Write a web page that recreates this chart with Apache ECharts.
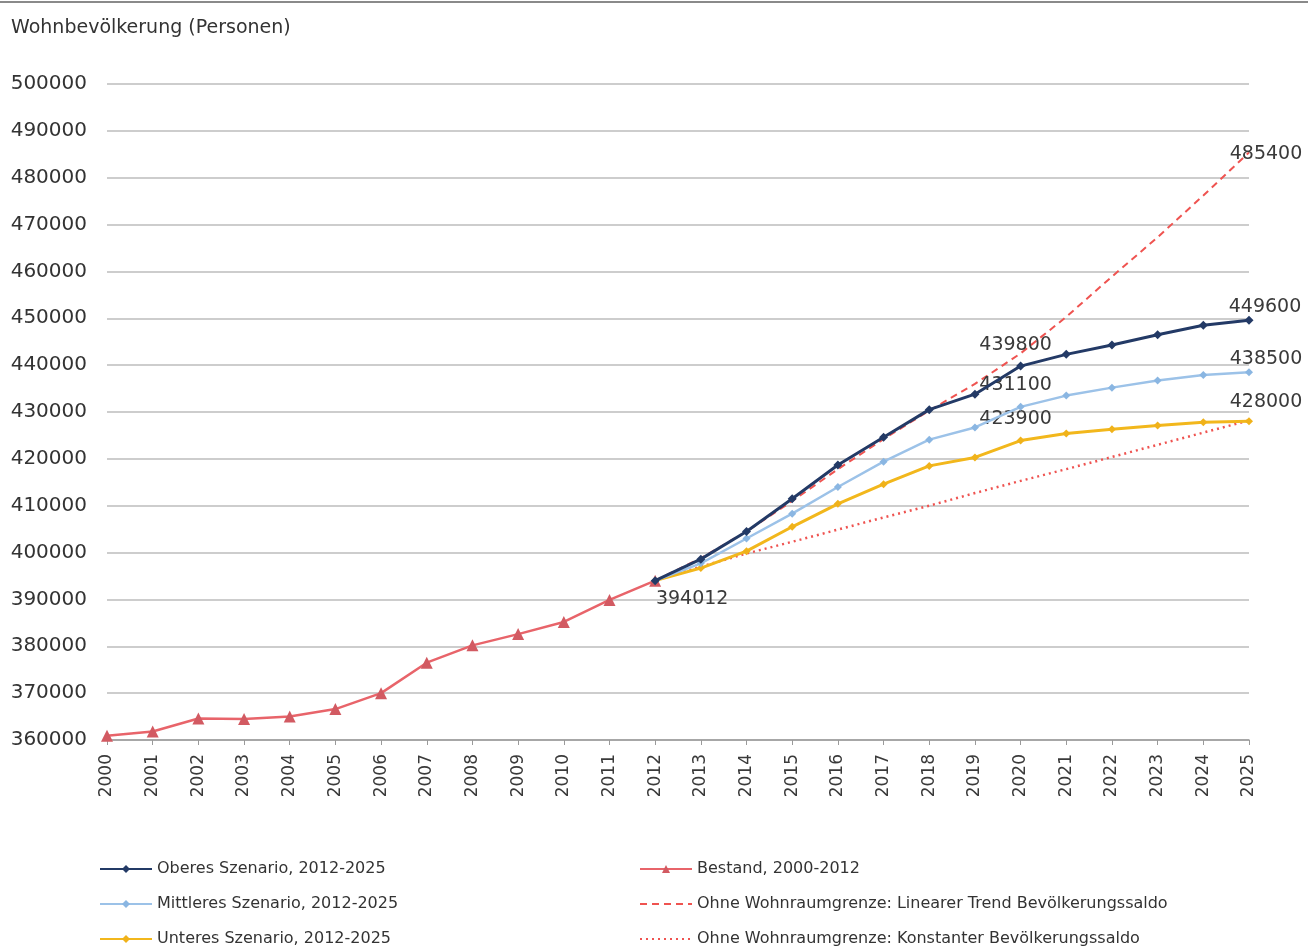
<!DOCTYPE html>
<html>
<head>
<meta charset="utf-8">
<script src="https://cdn.jsdelivr.net/npm/echarts@6/dist/echarts.min.js"></script>
<style>
  html, body { margin: 0; padding: 0; background: #fff; }
  #chart { width: 1308px; height: 948px; }
</style>
</head>
<body>
<div id="chart"></div>
<script>
// Jahre auf der x-Achse
const years = ['2000','2001','2002','2003','2004','2005','2006','2007','2008','2009','2010','2011','2012',
               '2013','2014','2015','2016','2017','2018','2019','2020','2021','2022','2023','2024','2025'];

// Bestand 2000-2012
const bestand = [360900, 361800, 364600, 364500, 365000, 366600, 370000, 376500, 380200, 382600, 385200, 389900, 394012];

// Szenarien 2012-2025
const oberes    = [394012, 398600, 404500, 411500, 418700, 424600, 430500, 433800, 439800, 442300, 444300, 446500, 448500, 449600];
const mittleres = [394012, 397700, 403000, 408300, 414000, 419400, 424100, 426700, 431100, 433500, 435200, 436700, 437900, 438500];
const unteres   = [394012, 396700, 400300, 405500, 410400, 414600, 418500, 420300, 423900, 425400, 426300, 427100, 427800, 428000];

// Ohne Wohnraumgrenze 2012-2025
const linearTrend = [394012, 398800, 404500, 411000, 417800, 424200, 430300, 436000, 442500, 450300, 458900, 467300, 476200, 485400];
const konstant    = [394012, 397000, 399800, 402300, 404900, 407500, 410000, 412700, 415300, 417800, 420400, 423000, 425600, 428200];

const names = {
  oberes: 'Oberes Szenario, 2012-2025',
  mittleres: 'Mittleres Szenario, 2012-2025',
  unteres: 'Unteres Szenario, 2012-2025',
  bestand: 'Bestand, 2000-2012',
  linear: 'Ohne Wohnraumgrenze: Linearer Trend Bevölkerungssaldo',
  konstant: 'Ohne Wohnraumgrenze: Konstanter Bevölkerungssaldo'
};

const startIdx = years.indexOf('2012');
function fromStart(arr) {
  const out = years.map(() => null);
  arr.forEach((v, i) => { out[startIdx + i] = v; });
  return out;
}
function padEnd(arr) {
  return years.map((_, i) => (i < arr.length ? arr[i] : null));
}

const labelFont = { fontFamily: 'DejaVu Sans', fontSize: 19, color: '#3a3a3a' };

// Beschriftung ausgewählter Punkte: {Jahr: [Position, Versatz]}
function withLabels(data, spec) {
  return data.map((v, i) => {
    const s = spec[years[i]];
    if (v == null || !s) return v;
    return {
      value: v,
      label: Object.assign({ show: true, position: s[0], offset: s[1], formatter: String(v) }, labelFont)
    };
  });
}

const hidden = 'rgba(0,0,0,0)';
const legendBase = {
  orient: 'vertical', top: 856, height: 130, itemWidth: 52, itemHeight: 10, itemGap: 19,
  textStyle: { fontFamily: 'DejaVu Sans', fontSize: 16, color: '#333' }
};

const chart = echarts.init(document.getElementById('chart'), null, { renderer: 'canvas' });

chart.setOption({
  animation: false,
  backgroundColor: '#ffffff',
  title: {
    text: 'Wohnbevölkerung (Personen)',
    left: 6, top: 14,
    textStyle: { fontFamily: 'DejaVu Sans', fontSize: 19, fontWeight: 'normal', color: '#333' }
  },
  graphic: [{
    type: 'line', shape: { x1: 0, y1: 2, x2: 1308, y2: 2 },
    style: { stroke: '#8a8a8a', lineWidth: 2 }
  }],
  grid: { left: 107, right: 59, top: 84, bottom: 208, containLabel: false },
  legend: [
    Object.assign({ left: 94, data: [names.oberes, names.mittleres, names.unteres] }, legendBase),
    Object.assign({ left: 634, data: [names.bestand, names.linear, names.konstant] }, legendBase)
  ],
  xAxis: {
    type: 'category',
    data: years,
    boundaryGap: false,
    axisLine: { lineStyle: { color: '#9a9a9a', width: 1.5 } },
    axisTick: { show: true, length: 5, lineStyle: { color: '#9a9a9a' } },
    axisLabel: { rotate: 90, margin: 14, interval: 0, fontFamily: 'DejaVu Sans', fontSize: 17, color: '#3a3a3a' },
    splitLine: { show: false }
  },
  yAxis: {
    type: 'value',
    min: 360000, max: 500000, interval: 10000,
    axisLine: { show: false },
    axisTick: { show: false },
    axisLabel: { margin: 20, fontFamily: 'DejaVu Sans', fontSize: 20, color: '#333', formatter: v => String(v) },
    splitLine: { lineStyle: { color: '#bdbdbd', width: 1.5 } }
  },
  series: [
    {
      name: names.linear, type: 'line', symbol: 'circle', symbolSize: 1, showSymbol: true, z: 2,
      lineStyle: { color: '#ef5350', width: 2, type: [7, 5] },
      itemStyle: { color: hidden },
      data: withLabels(fromStart(linearTrend), { '2025': ['top', [17, 17]] })
    },
    {
      name: names.konstant, type: 'line', symbol: 'circle', symbolSize: 1, showSymbol: true, z: 2,
      lineStyle: { color: '#ef5350', width: 2.5, type: [2, 4] },
      itemStyle: { color: hidden },
      data: fromStart(konstant)
    },
    {
      name: names.bestand, type: 'line', symbol: 'triangle', symbolSize: 12, z: 3,
      lineStyle: { color: '#e8646a', width: 2.5 },
      itemStyle: { color: '#d25a62' },
      data: withLabels(padEnd(bestand), { '2012': ['bottom', [37, -2]] })
    },
    {
      name: names.unteres, type: 'line', symbol: 'diamond', symbolSize: 8, z: 4,
      lineStyle: { color: '#f2b71c', width: 3 },
      itemStyle: { color: '#f0b21a' },
      data: withLabels(fromStart(unteres), { '2020': ['top', [-5, -3]], '2025': ['top', [17, -1]] })
    },
    {
      name: names.mittleres, type: 'line', symbol: 'diamond', symbolSize: 8, z: 5,
      lineStyle: { color: '#9cc2e8', width: 2.5 },
      itemStyle: { color: '#8ab6e2' },
      data: withLabels(fromStart(mittleres), { '2020': ['top', [-5, -3]], '2025': ['top', [17, 5]] })
    },
    {
      name: names.oberes, type: 'line', symbol: 'diamond', symbolSize: 9, z: 6,
      lineStyle: { color: '#233a66', width: 3 },
      itemStyle: { color: '#233a66' },
      data: withLabels(fromStart(oberes), { '2020': ['top', [-5, -2]], '2025': ['top', [16, 6]] })
    }
  ]
});
</script>
</body>
</html>
